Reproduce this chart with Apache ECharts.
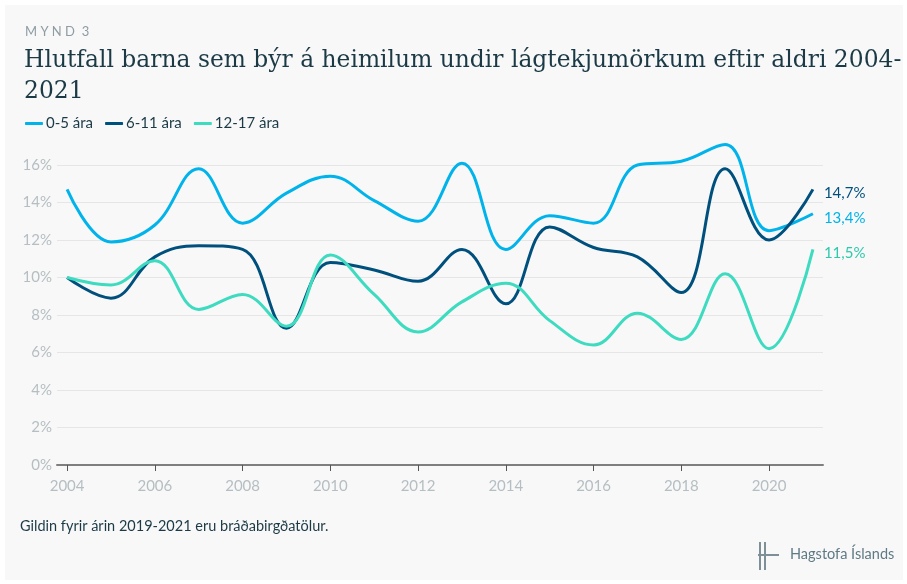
<!DOCTYPE html>
<html>
<head>
<meta charset="utf-8">
<script src="https://cdn.jsdelivr.net/npm/echarts@6/dist/echarts.min.js"></script>
<style>
  html, body { margin: 0; padding: 0; background: #ffffff; }
  #chartContainerID { width: 907px; height: 584px; }
</style>
</head>
<body>
<div id="chartContainerID"></div>
<script>
let chartContainerID = document.getElementById("chartContainerID");

// data
var years = [2004, 2005, 2006, 2007, 2008, 2009, 2010, 2011, 2012, 2013, 2014, 2015, 2016, 2017, 2018, 2019, 2020, 2021];
var age0to5 = [14.7, 11.9, 12.8, 15.8, 12.9, 14.5, 15.4, 14.1, 13.0, 16.1, 11.5, 13.3, 12.9, 16.0, 16.2, 17.1, 12.5, 13.4];
var age6to11 = [10.0, 8.9, 11.1, 11.7, 11.5, 7.3, 10.8, 10.4, 9.8, 11.5, 8.6, 12.7, 11.6, 11.1, 9.2, 15.8, 12.0, 14.7];
var age12to17 = [10.0, 9.6, 10.9, 8.3, 9.1, 7.4, 11.2, 9.1, 7.1, 8.7, 9.7, 7.7, 6.4, 8.1, 6.7, 10.2, 6.2, 11.5];
var seriesNames = ["0-5 ára", "6-11 ára", "12-17 ára"];
var seriesColors = ["#00b3ea", "#00507e", "#3ddbbf"];
var labelColors = ["#00b3ea", "#00507e", "#2ec9ad"];
var xTicks = [2004, 2006, 2008, 2010, 2012, 2014, 2016, 2018, 2020];

function pairs(values) {
  var out = [];
  for (var i = 0; i < years.length; i++) {
    out.push([years[i], values[i]]);
  }
  return out;
}

var myChart = echarts.init(chartContainerID);

var allValues = [age0to5, age6to11, age12to17];
var series = [];
for (var s = 0; s < allValues.length; s++) {
  series.push({
    name: seriesNames[s],
    type: 'line',
    data: pairs(allValues[s]),
    smooth: 0.4,
    showSymbol: false,
    clip: false,
    lineStyle: { width: 3, color: seriesColors[s] },
    itemStyle: { color: seriesColors[s] },
    endLabel: {
      show: true,
      distance: 11,
      offset: [0, 4],
      color: labelColors[s],
      fontFamily: 'Lato',
      fontSize: 15,
      formatter: function (p) {
        return p.value[1].toFixed(1).replace('.', ',') + '%';
      }
    }
  });
}

var option = {
  backgroundColor: '#ffffff',
  animation: false,
  textStyle: { fontFamily: 'Lato' },
  title: [
    {
      text: 'M Y N D  3',
      left: 20, top: 20,
      textStyle: { fontSize: 13, fontWeight: 'normal', color: '#8e9ca3', fontFamily: 'Lato' }
    },
    {
      text: 'Hlutfall barna sem býr á heimilum undir lágtekjumörkum eftir aldri 2004-\n2021',
      left: 19, top: 40,
      textStyle: { fontSize: 23.4, fontWeight: 'normal', color: '#1b3a46', fontFamily: 'DejaVu Serif', lineHeight: 31 }
    }
  ],
  legend: {
    left: 20, top: 111,
    icon: 'roundRect',
    itemWidth: 18, itemHeight: 3,
    itemGap: 12,
    textStyle: { fontSize: 15, color: '#1b3a46', fontFamily: 'Lato', padding: [0, 0, 0, -2] },
    data: seriesNames
  },
  grid: { left: 57, right: 84, top: 165, bottom: 119 },
  xAxis: {
    type: 'value',
    min: 2003.77,
    max: 2021.23,
    axisLine: { show: true, lineStyle: { color: '#7f7f7f', width: 2 } },
    axisTick: { show: true, customValues: xTicks, length: 6, lineStyle: { color: '#555' } },
    axisLabel: {
      customValues: xTicks, color: '#b5bec2', fontSize: 15, margin: 14, fontFamily: 'Lato',
      formatter: function (v) { return String(v); }
    },
    splitLine: { show: false }
  },
  yAxis: {
    type: 'value',
    min: 0, max: 16, interval: 2,
    axisLine: { show: false },
    axisTick: { show: false },
    axisLabel: { color: '#b5bec2', fontSize: 15, margin: 5, fontFamily: 'Lato', formatter: '{value}%' },
    splitLine: { lineStyle: { color: '#e6e6e6', width: 1 } }
  },
  graphic: [
    { type: 'rect', z: -10, shape: { x: 5, y: 5, width: 898, height: 575 }, style: { fill: '#f8f8f8' } },
    { type: 'text', left: 20, top: 519, style: { text: 'Gildin fyrir árin 2019-2021 eru bráðabirgðatölur.', fill: '#1b3a46', font: '14.5px Lato' } },
    { type: 'text', left: 790, top: 547, style: { text: 'Hagstofa Íslands', fill: '#5f7a85', font: '14.5px Lato' } },
    { type: 'line', shape: { x1: 760, y1: 542, x2: 760, y2: 570 }, style: { stroke: '#7d8f97', lineWidth: 2 } },
    { type: 'line', shape: { x1: 765, y1: 542, x2: 765, y2: 570 }, style: { stroke: '#7d8f97', lineWidth: 2 } },
    { type: 'line', shape: { x1: 758, y1: 555, x2: 779, y2: 555 }, style: { stroke: '#7d8f97', lineWidth: 2 } }
  ],
  series: series
};

myChart.setOption(option);
</script>
</body>
</html>
